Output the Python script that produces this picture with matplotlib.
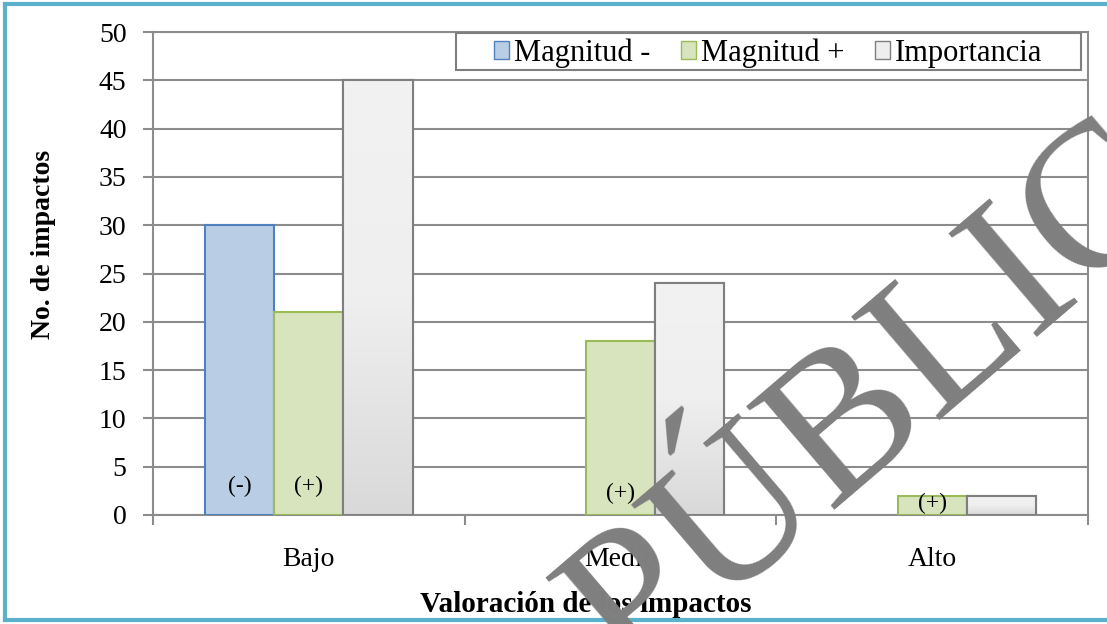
import numpy as np
import matplotlib.pyplot as plt
from matplotlib.patches import Rectangle, Patch
from matplotlib.colors import LinearSegmentedColormap

# Datos
categorias = ['Bajo', 'Medio', 'Alto']
magnitud_neg = [30, 0, 0]
magnitud_pos = [21, 18, 2]
importancia = [45, 24, 2]
etiquetas_neg = ['(-)', '', '']
etiquetas_pos = ['(+)', '(+)', '(+)']
pos_etiqueta = [3.0, 2.2, 1.2]

plt.rcParams['font.family'] = ['Liberation Serif', 'DejaVu Serif']

W, H = 1107, 624
fig = plt.figure(figsize=(W / 100, H / 100), dpi=100)
ax = fig.add_axes([153 / W, 1 - 515 / H, 935 / W, 483 / H])

x = np.arange(len(categorias))
w = 0.222

b1 = ax.bar(x - w, magnitud_neg, w, color='#B9CDE5', edgecolor='#4F81BD', linewidth=1.5, zorder=3)
b2 = ax.bar(x, magnitud_pos, w, color='#D7E4BD', edgecolor='#9BBB59', linewidth=1.5, zorder=3)
b3 = ax.bar(x + w, importancia, w, color='#EEEEEE', edgecolor='#7F7F7F', linewidth=1.5, zorder=3)

# las barras con valor 0 no se dibujan
for rect in list(b1) + list(b2):
    if rect.get_height() == 0:
        rect.set_visible(False)

# degradado vertical en las barras de importancia
cmap_gris = LinearSegmentedColormap.from_list('gris', ['#D9D9D9', '#EFEFEF', '#F2F2F2'])
grad = np.linspace(0, 1, 256).reshape(-1, 1)
for rect in b3:
    x0, y0 = rect.get_x(), rect.get_y()
    im = ax.imshow(grad, extent=[x0, x0 + rect.get_width(), y0, y0 + rect.get_height()],
                   origin='lower', cmap=cmap_gris, aspect='auto', zorder=3.5, interpolation='bilinear')
    im.set_clip_path(rect)
    ax.add_patch(Rectangle((x0, y0), rect.get_width(), rect.get_height(), fill=False,
                           edgecolor='#7F7F7F', linewidth=1.5, zorder=4))

for i in range(len(categorias)):
    if etiquetas_neg[i]:
        ax.text(x[i] - w, pos_etiqueta[i], etiquetas_neg[i], ha='center', va='center', fontsize=17, zorder=5)
    ax.text(x[i], pos_etiqueta[i], etiquetas_pos[i], ha='center', va='center', fontsize=17, zorder=5)

ax.set_xlim(-0.5, 2.5)
ax.set_ylim(0, 50)
ax.set_yticks(np.arange(0, 51, 5))
ax.yaxis.grid(True, color='#8C8C8C', linewidth=1.5, zorder=0)
ax.set_axisbelow(True)

ax.set_xticks(x)
ax.set_xticklabels(categorias, fontsize=20)
ax.set_xticks(np.arange(-0.5, 3, 1), minor=True)
ax.tick_params(axis='x', which='major', length=0, pad=23)
ax.tick_params(axis='x', which='minor', length=7, width=1.5, color='#8C8C8C')
ax.tick_params(axis='y', length=7, width=1.5, color='#8C8C8C', labelsize=20, pad=12)

for s in ax.spines.values():
    s.set_color('#8C8C8C')
    s.set_linewidth(1.5)

fig.text(44 / W, 1 - 244 / H, 'No. de impactos', rotation=90, ha='center', va='center',
         fontsize=20, fontweight='bold')
fig.text(586 / W, 1 - 605 / H, 'Valoración de los impactos', ha='center', va='center',
         fontsize=21, fontweight='bold')

# leyenda con marco propio
ax.add_patch(Rectangle(((456 - 153) / 935, (515 - 70) / 483), 625 / 935, 37 / 483,
                       transform=ax.transAxes, facecolor='white', edgecolor='#7F7F7F',
                       linewidth=1.5, zorder=6))
handles = [Patch(facecolor='#B9CDE5', edgecolor='#4F81BD'),
           Patch(facecolor='#D7E4BD', edgecolor='#9BBB59'),
           Patch(facecolor='#EEEEEE', edgecolor='#7F7F7F')]
leg = ax.legend(handles, ['Magnitud -', 'Magnitud +', 'Importancia'], ncol=3, loc='center left',
                bbox_to_anchor=((494 - 153) / 935, (515 - 53) / 483), borderaxespad=0,
                borderpad=0, fontsize=22, frameon=False, handlelength=0.5, handleheight=0.5,
                handletextpad=0.15, columnspacing=1.0)
leg.set_zorder(7)

# marca de agua
ang = 40.5
tam = 149
em = tam / 72 * 100
ux, uy = np.cos(np.radians(ang)), -np.sin(np.radians(ang))
ax_px, ay_px = 1056 - 2.72 * em * ux, 316 - 2.72 * em * uy
fig.text(ax_px / W, 1 - ay_px / H, 'PÚBLICO', rotation=ang, rotation_mode='anchor',
         ha='left', va='baseline', fontsize=tam, color='#7F7F7F', zorder=10)

# borde de la figura (sin lado derecho)
borde = '#5BB0CC'
fig.add_artist(plt.Line2D([5 / W, 5 / W], [4 / H, (H - 4) / H], color=borde, linewidth=3,
                          transform=fig.transFigure))
fig.add_artist(plt.Line2D([5 / W, 1], [(H - 4) / H, (H - 4) / H], color=borde, linewidth=3,
                          transform=fig.transFigure))
fig.add_artist(plt.Line2D([5 / W, 1], [4 / H, 4 / H], color=borde, linewidth=3,
                          transform=fig.transFigure))

fig.savefig('out.png', dpi=100)
